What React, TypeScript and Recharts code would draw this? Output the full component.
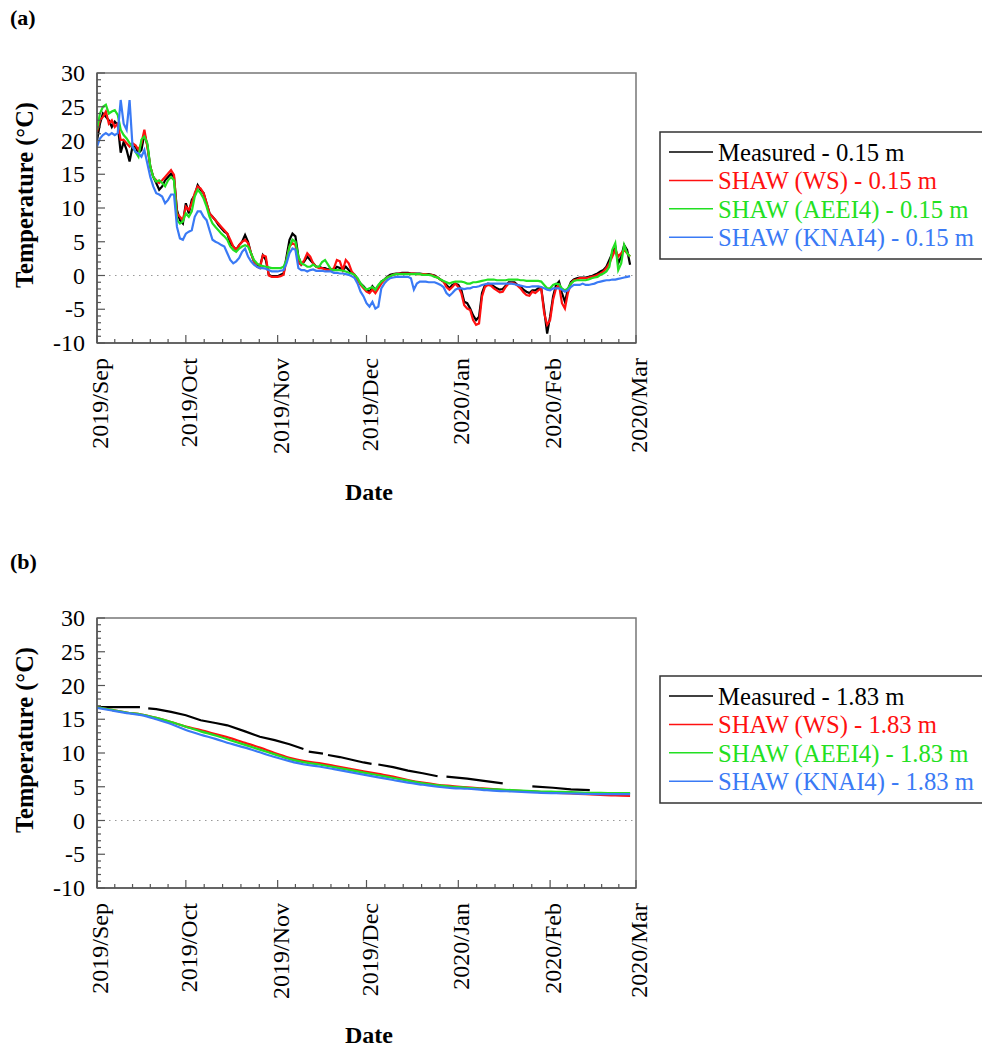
import { LineChart, Line, XAxis, YAxis, ReferenceLine, ReferenceArea } from 'recharts'

const FONT = '"Liberation Serif", "Times New Roman", serif'
const AXIS = '#555'

const MONTH_LABELS = ['2019/Sep', '2019/Oct', '2019/Nov', '2019/Dec', '2020/Jan', '2020/Feb', '2020/Mar']
const MONTH_START_DAYS = [0, 30, 61, 91, 122, 153, 182]
const Y_TICKS = [-10, -9, -8, -7, -6, -5, -4, -3, -2, -1, 0, 1, 2, 3, 4, 5, 6, 7, 8, 9, 10, 11, 12, 13, 14, 15, 16, 17, 18, 19, 20, 21, 22, 23, 24, 25, 26, 27, 28, 29, 30]

const SERIES_NAMES = ['Measured', 'SHAW (WS)', 'SHAW (AEEI4)', 'SHAW (KNAI4)']
const SERIES_KEYS = ['measured', 'ws', 'aeei4', 'knai4']
const SERIES_COLORS = ['#000000', '#ff1010', '#22e022', '#3a7af5']

// (a) 0.15 m, daily values from 2019-09-01
const MEASURED_015 = [
  20.0, 22.5, 24.0, 23.5, 23.0, 22.0, 22.8, 22.3, 18.2, 19.8,
  18.6, 16.9, 19.1, 19.1, 18.1, 18.6, 21.0, 19.3, 16.1, 14.6,
  13.7, 12.7, 13.2, 14.1, 14.6, 15.1, 14.6, 9.7, 8.2, 7.7,
  10.7, 9.2, 11.2, 11.9, 13.4, 12.7, 12.2, 10.7, 9.2, 8.7,
  8.2, 7.5, 7.0, 6.5, 6.2, 4.8, 4.3, 3.8, 4.5, 5.0,
  6.0, 5.0, 3.3, 2.1, 1.6, 1.3, 3.0, 2.3, 0.1, -0.1,
  -0.1, -0.1, 0.1, 0.3, 2.8, 5.3, 6.2, 5.8, 2.8, 1.6,
  2.1, 2.8, 2.3, 1.8, 1.3, 1.3, 1.1, 1.1, 0.9, 0.9,
  0.8, 1.3, 1.1, 0.8, 1.3, 0.8, 0.4, 0.1, -0.6, -1.2,
  -1.6, -2.1, -2.5, -1.6, -2.1, -1.6, -0.9, -0.6, -0.2, 0.1,
  0.2, 0.3, 0.3, 0.4, 0.4, 0.4, 0.3, 0.3, 0.3, 0.3,
  0.2, 0.2, 0.2, 0.1, 0.0, -0.3, -0.6, -0.9, -1.4, -1.9,
  -1.4, -1.2, -1.4, -2.1, -3.9, -4.1, -4.9, -5.9, -6.6, -6.1,
  -2.6, -1.4, -1.2, -1.3, -1.6, -1.9, -2.1, -2.0, -1.5, -1.0,
  -1.0, -1.0, -1.4, -1.6, -2.1, -2.4, -2.6, -2.2, -2.2, -1.9,
  -1.9, -5.1, -8.6, -6.1, -3.1, -1.4, -0.9, -2.6, -3.9, -2.1,
  -1.0, -0.6, -0.4, -0.3, -0.3, -0.3, -0.2, -0.1, 0.1, 0.3,
  0.6, 0.8, 1.3, 2.3, 3.3, 4.3, 1.8, 2.8, 4.5, 3.8, 1.6,
]
const WS_015 = [
  21.3, 23.0, 23.5, 24.3, 22.5, 23.0, 22.0, 22.5, 20.1, 20.1,
  19.6, 19.1, 19.6, 19.3, 18.6, 19.6, 21.6, 19.1, 16.1, 14.6,
  14.1, 13.7, 14.1, 14.6, 15.1, 15.6, 14.9, 9.2, 8.7, 8.2,
  10.2, 9.7, 10.7, 12.2, 13.2, 12.9, 12.2, 10.7, 9.2, 8.7,
  8.2, 7.7, 7.2, 6.7, 6.2, 5.3, 4.3, 3.8, 4.5, 5.0,
  5.3, 4.8, 3.3, 2.1, 1.3, 1.1, 3.0, 2.8, 0.0, -0.2,
  -0.2, -0.2, -0.1, 0.1, 2.3, 4.3, 4.8, 4.5, 1.8, 1.6,
  2.3, 3.3, 2.8, 1.8, 1.3, 1.1, 1.1, 0.9, 0.8, 0.8,
  1.1, 2.3, 2.1, 0.8, 2.3, 1.8, 0.6, 0.1, -0.7, -1.4,
  -1.9, -2.4, -2.6, -2.1, -2.6, -1.9, -1.2, -0.7, -0.3, -0.1,
  0.1, 0.2, 0.3, 0.3, 0.3, 0.3, 0.3, 0.3, 0.2, 0.2,
  0.2, 0.2, 0.1, 0.1, -0.1, -0.3, -0.6, -0.9, -1.7, -2.1,
  -1.7, -1.2, -1.7, -2.6, -4.4, -4.9, -5.1, -6.6, -7.3, -7.1,
  -3.1, -1.7, -1.4, -1.5, -1.9, -2.2, -2.5, -2.4, -1.7, -1.2,
  -1.1, -1.2, -1.5, -1.9, -2.5, -2.9, -3.0, -2.4, -2.6, -2.2,
  -1.9, -5.6, -7.3, -6.6, -3.6, -1.9, -1.4, -4.1, -4.9, -2.6,
  -1.2, -0.7, -0.6, -0.4, -0.4, -0.4, -0.3, -0.2, -0.1, 0.1,
  0.3, 0.6, 1.1, 1.8, 2.8, 3.8, 2.8, 3.3, 3.8, 3.3, 2.8,
]
const AEEI4_015 = [
  21.6, 24.0, 25.0, 25.3, 24.0, 24.3, 24.5, 23.8, 21.6, 20.8,
  20.3, 19.6, 19.1, 18.3, 17.6, 20.1, 20.6, 19.6, 16.1, 14.6,
  13.9, 14.1, 13.7, 13.2, 14.1, 14.6, 14.1, 8.2, 7.7, 8.0,
  9.2, 8.7, 9.5, 11.7, 12.7, 12.2, 11.4, 10.2, 8.7, 7.7,
  7.2, 6.7, 6.2, 5.8, 5.3, 4.3, 3.8, 3.5, 4.0, 4.3,
  4.5, 4.3, 3.3, 2.3, 1.8, 1.5, 1.4, 1.3, 1.2, 1.1,
  1.1, 1.1, 1.1, 1.3, 2.3, 4.3, 5.3, 5.0, 2.8, 1.8,
  1.6, 1.3, 1.3, 1.6, 1.3, 1.3, 2.0, 2.3, 1.6, 0.9,
  0.8, 0.8, 0.8, 0.7, 0.6, 0.4, 0.3, 0.1, -0.4, -1.2,
  -1.7, -2.1, -1.9, -1.7, -2.1, -1.4, -0.9, -0.6, -0.3, -0.1,
  0.1, 0.2, 0.2, 0.2, 0.2, 0.2, 0.2, 0.2, 0.2, 0.2,
  0.1, 0.1, 0.1, 0.0, -0.2, -0.3, -0.6, -0.8, -1.0, -1.2,
  -1.0, -0.9, -0.9, -0.9, -1.0, -1.2, -1.2, -1.0, -1.0, -0.9,
  -0.8, -0.7, -0.6, -0.6, -0.6, -0.7, -0.7, -0.7, -0.7, -0.6,
  -0.6, -0.6, -0.6, -0.7, -0.7, -0.8, -0.8, -0.8, -0.8, -0.8,
  -0.9, -1.4, -1.9, -1.9, -1.4, -1.2, -1.3, -1.9, -2.2, -1.9,
  -1.2, -0.8, -0.7, -0.7, -0.7, -0.7, -0.6, -0.4, -0.3, -0.2,
  0.1, 0.3, 0.6, 1.3, 3.8, 4.8, 0.8, 1.8, 4.5, 3.3, 2.8,
]
const KNAI4_015 = [
  19.1, 20.3, 20.8, 21.1, 20.8, 21.1, 20.8, 21.1, 26.0, 22.5,
  21.6, 26.0, 19.1, 18.3, 18.1, 17.6, 18.6, 16.6, 14.6, 13.2,
  12.2, 12.0, 11.7, 10.7, 11.2, 12.0, 12.0, 7.2, 5.5, 5.3,
  6.2, 6.5, 6.7, 8.7, 9.5, 9.5, 8.7, 8.2, 6.7, 5.3,
  5.0, 4.8, 4.5, 4.3, 3.3, 2.3, 1.8, 2.1, 2.6, 3.5,
  4.0, 2.8, 2.1, 1.6, 1.3, 1.1, 1.1, 1.0, 0.8, 0.6,
  0.6, 0.6, 0.7, 0.8, 1.8, 3.3, 4.0, 3.8, 1.1, 0.8,
  0.8, 0.6, 0.8, 0.9, 0.7, 0.7, 0.7, 0.6, 0.6, 0.6,
  0.4, 0.4, 0.3, 0.3, 0.2, 0.1, -0.1, -0.4, -1.2, -2.4,
  -3.1, -4.1, -4.6, -3.9, -4.9, -4.6, -1.9, -1.2, -0.7, -0.4,
  -0.3, -0.2, -0.2, -0.2, -0.2, -0.2, -0.4, -2.1, -1.2, -0.9,
  -0.9, -0.9, -1.0, -1.0, -1.0, -1.2, -1.4, -1.7, -2.6, -3.0,
  -2.6, -2.1, -1.9, -1.9, -2.0, -1.9, -1.9, -1.7, -1.7, -1.6,
  -1.4, -1.3, -1.2, -1.2, -1.2, -1.2, -1.2, -1.2, -1.2, -1.2,
  -1.2, -1.3, -1.4, -1.5, -1.6, -1.7, -1.7, -1.6, -1.6, -1.6,
  -1.7, -1.9, -2.1, -2.2, -1.9, -1.9, -1.9, -2.1, -2.4, -2.2,
  -1.7, -1.4, -1.4, -1.4, -1.2, -1.4, -1.4, -1.3, -1.2, -1.0,
  -0.9, -0.8, -0.7, -0.7, -0.6, -0.6, -0.5, -0.4, -0.3, -0.2, -0.1,
]

// (b) 1.83 m, model output every 5 days
const MODEL_DAYS_183 = [0, 5, 10, 15, 20, 25, 30, 35, 40, 45, 50, 55, 60, 65, 70, 75, 80, 85, 90, 95, 100, 105, 110, 115, 120, 125, 130, 135, 140, 145, 150, 155, 160, 165, 170, 175, 180]
const WS_183 = [16.8, 16.4, 16.0, 15.7, 15.2, 14.6, 13.9, 13.4, 12.8, 12.2, 11.5, 10.8, 10.0, 9.3, 8.8, 8.5, 8.1, 7.7, 7.3, 6.9, 6.5, 6.0, 5.6, 5.3, 5.1, 4.9, 4.75, 4.6, 4.45, 4.35, 4.2, 4.1, 4.0, 3.9, 3.8, 3.7, 3.65]
const AEEI4_183 = [16.8, 16.4, 16.0, 15.7, 15.2, 14.6, 13.9, 13.2, 12.6, 11.9, 11.2, 10.5, 9.8, 9.1, 8.6, 8.3, 7.9, 7.5, 7.1, 6.7, 6.3, 5.9, 5.5, 5.2, 5.0, 4.85, 4.7, 4.6, 4.5, 4.4, 4.3, 4.25, 4.2, 4.1, 4.1, 4.05, 4.05]
const KNAI4_183 = [16.7, 16.3, 15.9, 15.6, 15.0, 14.3, 13.4, 12.7, 12.1, 11.4, 10.8, 10.1, 9.4, 8.8, 8.3, 8.0, 7.6, 7.2, 6.8, 6.4, 6.0, 5.6, 5.3, 5.0, 4.8, 4.7, 4.55, 4.4, 4.3, 4.2, 4.1, 4.05, 4.0, 3.95, 3.9, 3.9, 3.9]
// measured 1.83 m has gaps (null)
const MEASURED_183_DAYS = [0, 7, 14.5, 15.9, 17.3, 20, 25, 30, 35, 40, 44, 50, 55, 60, 65, 69.7, 70.6, 71.5, 76.3, 77.1, 78, 82, 86, 90, 92.7, 93.8, 95, 100, 105, 110, 115, 116.5, 118, 125, 130, 137, 142, 147, 154, 160, 166.4, 168.7, 171, 176, 180]
const MEASURED_183 = [16.8, 16.8, 16.8, null, 16.6, 16.5, 16.1, 15.6, 14.85, 14.45, 14.1, 13.2, 12.4, 11.9, 11.3, 10.6, null, 10.2, 9.9, null, 9.7, 9.4, 9.0, 8.6, 8.4, null, 8.3, 7.9, 7.4, 7.0, 6.55, null, 6.5, 6.2, 5.9, 5.5, null, 5.05, 4.85, 4.6, 4.5, null, 4.0, 4.0, 4.0]

const rowsA = MEASURED_015.map((v, i) => ({
  day: i, measured: v, ws: WS_015[i], aeei4: AEEI4_015[i], knai4: KNAI4_015[i],
}))
const rowsB = MODEL_DAYS_183.map((d, i) => ({
  day: d, ws: WS_183[i], aeei4: AEEI4_183[i], knai4: KNAI4_183[i],
}))
const measuredB = MEASURED_183_DAYS.map((d, i) => ({ day: d, measured: MEASURED_183[i] }))

// month ticks plus 4 minor ticks per month
const X_TICKS = MONTH_START_DAYS.slice(0, -1)
  .flatMap((s, i) => {
    const len = MONTH_START_DAYS[i + 1] - s
    return [0, 1, 2, 3, 4].map(k => s + (k * len) / 5)
  })
  .concat([MONTH_START_DAYS[MONTH_START_DAYS.length - 1]])

function XTick(props: any) {
  const { x, y, payload } = props
  const idx = MONTH_START_DAYS.indexOf(payload.value)
  const major = idx >= 0
  return (
    <g>
      <line x1={x} x2={x} y1={y} y2={y - (major ? 8 : 4)} stroke={AXIS} strokeWidth={1.2} />
      {major && (
        <text
          transform={`translate(${x + 3}, ${y + 15}) rotate(-90)`}
          textAnchor="end"
          dominantBaseline="central"
          fontFamily={FONT}
          fontSize={24}
          fill="#000"
        >
          {MONTH_LABELS[idx]}
        </text>
      )}
    </g>
  )
}

function YTick(props: any) {
  const { x, y, payload } = props
  const major = payload.value % 5 === 0
  return (
    <g>
      <line x1={x} x2={x + (major ? 8 : 4)} y1={y} y2={y} stroke={AXIS} strokeWidth={1.2} />
      {major && (
        <text x={x - 12} y={y} textAnchor="end" dominantBaseline="central" fontFamily={FONT} fontSize={24} fill="#000">
          {payload.value}
        </text>
      )}
    </g>
  )
}

function Panel({ data, lines }: { data: any[]; lines: any }) {
  return (
    <LineChart width={666} height={470} data={data} margin={{ top: 73, right: 30, left: 0, bottom: 7 }}>
      <XAxis
        dataKey="day"
        type="number"
        domain={[0, 182]}
        ticks={X_TICKS}
        interval={0}
        height={120}
        tickLine={false}
        tickSize={0}
        tickMargin={0}
        axisLine={{ stroke: AXIS, strokeWidth: 1.5 }}
        tick={(p: any) => <XTick {...p} />}
        allowDataOverflow
      />
      <YAxis
        type="number"
        domain={[-10, 30]}
        ticks={Y_TICKS}
        interval={0}
        width={97}
        tickLine={false}
        tickSize={0}
        tickMargin={0}
        axisLine={{ stroke: AXIS, strokeWidth: 1.5 }}
        tick={(p: any) => <YTick {...p} />}
        allowDataOverflow
      />
      <ReferenceArea x1={0} x2={182} y1={-10} y2={30} fill="none" stroke="#777" strokeWidth={1.5} />
      <ReferenceLine y={0} stroke="#999" strokeDasharray="1.5 4.5" strokeWidth={1.2} />
      {lines}
    </LineChart>
  )
}

function LegendBox({ top, depth }: { top: number; depth: string }) {
  return (
    <g>
      <rect x={660} y={top} width={340} height={127} fill="#fff" stroke="#333" strokeWidth={1.5} />
      {SERIES_NAMES.map((name, i) => {
        const ly = top + 20 + i * 28.4
        return (
          <g key={name}>
            <line x1={669} x2={713} y1={ly} y2={ly} stroke={SERIES_COLORS[i]} strokeWidth={1.5} />
            <text x={718} y={ly + 9} fontFamily={FONT} fontSize={24.7} fill={SERIES_COLORS[i]}>
              {`${name} - ${depth} m`}
            </text>
          </g>
        )
      })}
    </g>
  )
}

export default function App() {
  const linesA = SERIES_KEYS.map((k, i) => (
    <Line
      key={k}
      dataKey={k}
      type="linear"
      stroke={SERIES_COLORS[i]}
      strokeWidth={2.2}
      dot={false}
      activeDot={false}
      isAnimationActive={false}
    />
  ))
  const linesB = [
    <Line
      key="measured"
      data={measuredB}
      dataKey="measured"
      type="linear"
      stroke={SERIES_COLORS[0]}
      strokeWidth={2.2}
      dot={false}
      activeDot={false}
      connectNulls={false}
      isAnimationActive={false}
    />,
    ...SERIES_KEYS.slice(1).map((k, i) => (
      <Line
        key={k}
        dataKey={k}
        type="monotone"
        stroke={SERIES_COLORS[i + 1]}
        strokeWidth={2.2}
        dot={false}
        activeDot={false}
        isAnimationActive={false}
      />
    )),
  ]

  return (
    <div style={{ position: 'absolute', left: 0, top: 0, width: 982, height: 1049, background: '#fff', overflow: 'hidden' }}>
      <div style={{ position: 'absolute', left: 0, top: 0 }}>
        <Panel data={rowsA} lines={linesA} />
      </div>
      <div style={{ position: 'absolute', left: 0, top: 545 }}>
        <Panel data={rowsB} lines={linesB} />
      </div>
      <svg width={982} height={1049} style={{ position: 'absolute', left: 0, top: 0, pointerEvents: 'none' }}>
        <text x={10} y={25} fontFamily={FONT} fontSize={22} fontWeight="bold">(a)</text>
        <text x={10} y={569} fontFamily={FONT} fontSize={22} fontWeight="bold">(b)</text>
        <text transform="translate(33, 195) rotate(-90)" textAnchor="middle" fontFamily={FONT} fontSize={24.5} fontWeight="bold">
          Temperature (°C)
        </text>
        <text transform="translate(33, 740) rotate(-90)" textAnchor="middle" fontFamily={FONT} fontSize={24.5} fontWeight="bold">
          Temperature (°C)
        </text>
        <text x={369} y={500} textAnchor="middle" fontFamily={FONT} fontSize={24} fontWeight="bold">Date</text>
        <text x={369} y={1043} textAnchor="middle" fontFamily={FONT} fontSize={24} fontWeight="bold">Date</text>
        <LegendBox top={132} depth="0.15" />
        <LegendBox top={676} depth="1.83" />
      </svg>
    </div>
  )
}
